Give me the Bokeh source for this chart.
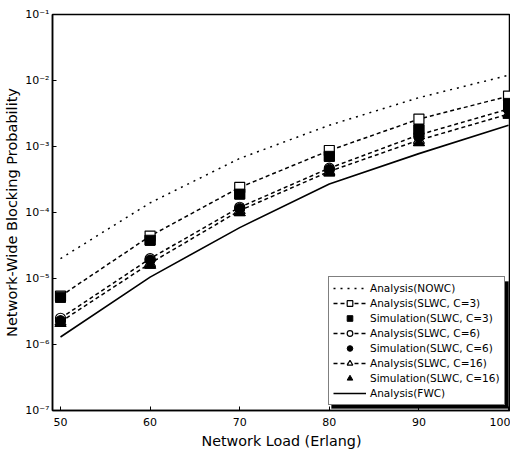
from bokeh.plotting import figure
from bokeh.models import (FixedTicker, CustomJSTickFormatter, Legend, LegendItem,
                          BoxAnnotation, Range1d)
from bokeh.embed import file_html
from bokeh.resources import INLINE

# ---- data ----
load = [50, 60, 70, 80, 90, 100]
nowc = [2.0e-5, 1.4e-4, 6.6e-4, 2.1e-3, 5.5e-3, 1.2e-2]
an_c3 = [5.4e-6, 4.4e-5, 2.4e-4, 8.7e-4, 2.6e-3, 5.8e-3]
sim_c3 = [5.2e-6, 3.8e-5, 1.9e-4, 7.1e-4, 1.8e-3, 4.5e-3]
an_c6 = [2.5e-6, 2.0e-5, 1.2e-4, 4.7e-4, 1.5e-3, 3.7e-3]
sim_c6 = [2.3e-6, 1.9e-5, 1.15e-4, 4.5e-4, 1.4e-3, 3.6e-3]
an_c16 = [2.2e-6, 1.7e-5, 1.07e-4, 4.2e-4, 1.25e-3, 3.1e-3]
sim_c16 = [2.1e-6, 1.6e-5, 1.0e-4, 4.0e-4, 1.15e-3, 3.0e-3]
fwc = [1.3e-6, 1.05e-5, 5.9e-5, 2.7e-4, 7.8e-4, 2.1e-3]

x_ticks = [50, 60, 70, 80, 90, 100]
y_ticks = [1e-7, 1e-6, 1e-5, 1e-4, 1e-3, 1e-2, 1e-1]

FONT = "DejaVu Sans"

p = figure(width=510, height=451, y_axis_type="log",
           x_range=Range1d(49.107, 100.22), y_range=Range1d(1e-7, 1e-1),
           output_backend="svg", toolbar_location=None,
           min_border_left=52, min_border_right=0, min_border_top=14, min_border_bottom=41)
p.xgrid.visible = False
p.ygrid.visible = False
p.outline_line_color = "black"
p.outline_line_width = 1.5
p.background_fill_color = "white"
p.border_fill_color = "white"

p.xaxis.ticker = FixedTicker(ticks=x_ticks)
p.yaxis.ticker = FixedTicker(ticks=y_ticks)
p.yaxis.formatter = CustomJSTickFormatter(code="""
const e = Math.round(Math.log10(tick));
const sup = {'-':'\u207b','0':'\u2070','1':'\u00b9','2':'\u00b2','3':'\u00b3','4':'\u2074','5':'\u2075','6':'\u2076','7':'\u2077','8':'\u2078','9':'\u2079'};
return '10' + String(e).split('').map(c => sup[c]).join('');
""")
for ax in (p.xaxis[0], p.yaxis[0]):
    ax.axis_line_color = "black"
    ax.axis_line_width = 1.5
    ax.major_tick_in = 4
    ax.major_tick_out = 0
    ax.minor_tick_line_color = None
    ax.major_label_text_font = FONT
    ax.major_label_text_font_size = "11px"
    ax.major_label_text_color = "black"
    ax.axis_label_text_font = FONT
    ax.axis_label_text_font_style = "normal"
    ax.axis_label_text_color = "black"
p.xaxis.axis_label = "Network Load (Erlang)"
p.yaxis.axis_label = "Network-Wide Blocking Probability"
p.xaxis.axis_label_text_font_size = "14.3px"
p.yaxis.axis_label_text_font_size = "14.5px"
p.xaxis.major_label_standoff = 7
p.xaxis.axis_label_standoff = 4
p.yaxis.major_label_standoff = 3
p.yaxis.axis_label_standoff = 2

lw = 1.5
r_nowc = p.line(load, nowc, line_color="black", line_width=lw, line_dash="2 5")
l_c3 = p.line(load, an_c3, line_color="black", line_width=lw, line_dash="4 3")
l_c6 = p.line(load, an_c6, line_color="black", line_width=lw, line_dash="4 3")
l_c16 = p.line(load, an_c16, line_color="black", line_width=lw, line_dash="4 3")
r_fwc = p.line(load, fwc, line_color="black", line_width=1.6)

s_c3 = p.scatter(load, sim_c3, marker="square", size=10, fill_color="black", line_color="black")
s_c6 = p.scatter(load, sim_c6, marker="circle", size=10, fill_color="black", line_color="black")
s_c16 = p.scatter(load, sim_c16, marker="triangle", size=11, fill_color="black", line_color="black")
m_c3 = p.scatter(load, an_c3, marker="square", size=10, fill_color="white", line_color="black", line_width=1.2)
m_c6 = p.scatter(load, an_c6, marker="circle", size=10, fill_color="white", line_color="black", line_width=1.2)
m_c16 = p.scatter(load, an_c16, marker="triangle", size=11, fill_color="white", line_color="black", line_width=1.2)
# filled simulation markers drawn again over the open ones where they overlap
s_c3b = p.scatter(load, sim_c3, marker="square", size=10, fill_color="black", line_color="black")
s_c6b = p.scatter(load, sim_c6, marker="circle", size=10, fill_color="black", line_color="black")
s_c16b = p.scatter(load, sim_c16, marker="triangle", size=11, fill_color="black", line_color="black")

# legend drop shadow (frame-relative screen units, y measured upward)
shadow = BoxAnnotation(left=279, right=456, bottom=2, top=129,
                       left_units="screen", right_units="screen",
                       top_units="screen", bottom_units="screen",
                       fill_color="black", fill_alpha=1.0, line_color="black")
p.add_layout(shadow)

legend = Legend(items=[
    LegendItem(label="Analysis(NOWC)", renderers=[r_nowc]),
    LegendItem(label="Analysis(SLWC, C=3)", renderers=[l_c3, m_c3]),
    LegendItem(label="Simulation(SLWC, C=3)", renderers=[s_c3]),
    LegendItem(label="Analysis(SLWC, C=6)", renderers=[l_c6, m_c6]),
    LegendItem(label="Simulation(SLWC, C=6)", renderers=[s_c6]),
    LegendItem(label="Analysis(SLWC, C=16)", renderers=[l_c16, m_c16]),
    LegendItem(label="Simulation(SLWC, C=16)", renderers=[s_c16]),
    LegendItem(label="Analysis(FWC)", renderers=[r_fwc]),
], location=(276, 5))
legend.label_text_font = FONT
legend.label_text_font_size = "10.5px"
legend.label_text_color = "black"
legend.label_height = 14
legend.glyph_height = 14
legend.glyph_width = 33
legend.label_standoff = 4
legend.spacing = 1
legend.padding = 4
legend.margin = 0
legend.border_line_color = "black"
legend.border_line_width = 1.2
legend.background_fill_color = "white"
legend.background_fill_alpha = 1.0
p.add_layout(legend)

open("out.html", "w").write(file_html(p, INLINE))
